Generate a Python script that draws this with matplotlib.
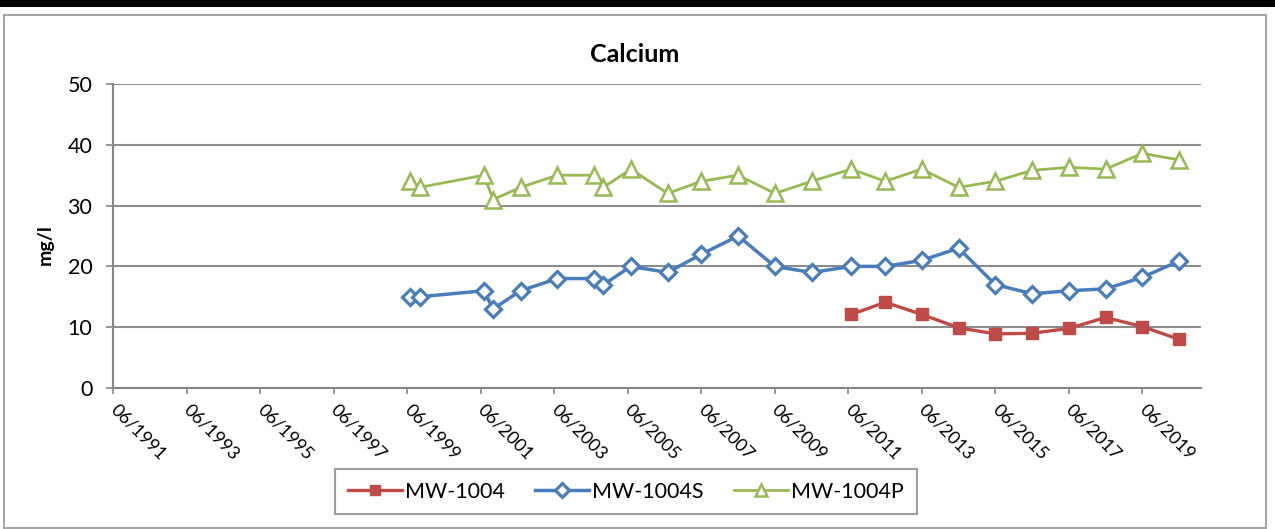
import matplotlib
matplotlib.use("Agg")
import matplotlib.pyplot as plt
import matplotlib.dates as mdates
from matplotlib.patches import Rectangle
import pandas as pd

plt.rcParams['font.family'] = ['Lato', 'DejaVu Sans']

title = "Calcium"
y_label = "mg/l"
series_names = ["MW-1004", "MW-1004S", "MW-1004P"]

dates_sp = ['1999-07-01', '1999-10-01', '2001-07-01', '2001-10-01', '2002-07-01',
            '2003-07-01', '2004-07-01', '2004-10-01', '2005-07-01', '2006-07-01',
            '2007-06-01', '2008-06-01', '2009-06-01', '2010-06-01', '2011-07-01',
            '2012-06-01', '2013-06-01', '2014-06-01', '2015-06-01', '2016-06-01',
            '2017-06-01', '2018-06-01', '2019-06-01', '2020-06-01']
dates_main = ['2011-07-01', '2012-06-01', '2013-06-01', '2014-06-01', '2015-06-01',
              '2016-06-01', '2017-06-01', '2018-06-01', '2019-06-01', '2020-06-01']

mw1004 = [12.1, 14.1, 12.1, 9.9, 8.9, 9.0, 9.8, 11.6, 10.1, 8.0]
mw1004s = [15, 15, 16, 13, 16, 18, 18, 17, 20, 19, 22, 25, 20, 19, 20, 20, 21, 23,
           17, 15.5, 16, 16.3, 18.2, 20.9]
mw1004p = [34, 33, 35, 31, 33, 35, 35, 33, 36, 32, 34, 35, 32, 34, 36, 34, 36, 33,
           34, 35.8, 36.3, 36, 38.6, 37.5]

x_start = '1991-06-01'
x_end = '2021-01-01'
y_ticks = [0, 10, 20, 30, 40, 50]

W, H = 1275, 529
fig = plt.figure(figsize=(W / 100, H / 100), dpi=100)
fig.patch.set_facecolor('white')

# top black band and chart frame
fig.patches.append(Rectangle((0, 1 - 7 / H), 1, 7 / H, transform=fig.transFigure,
                             facecolor='black', edgecolor='none', zorder=0))
fig.patches.append(Rectangle((4 / W, 1 / H), 1262 / W, (514 - 1) / H,
                             transform=fig.transFigure, facecolor='none',
                             edgecolor='#a6a6a6', linewidth=1.5, zorder=0))

left, right = 113.3 / W, 1200.7 / W
bottom, top = 1 - 388 / H, 1 - 84 / H
ax = fig.add_axes([left, bottom, right - left, top - bottom])

red = '#BE4B48'
blue = '#4A7EBB'
green = '#98B954'

x_m = pd.to_datetime(dates_main)
x_sp = pd.to_datetime(dates_sp)

ax.plot(x_m, mw1004, color=red, linewidth=2.4, marker='s', markersize=8,
        markerfacecolor=red, markeredgecolor=red, label=series_names[0], zorder=3)
ax.plot(x_sp, mw1004s, color=blue, linewidth=2.5, marker='D', markersize=8,
        markerfacecolor='white', markeredgecolor=blue, markeredgewidth=2.3,
        label=series_names[1], zorder=4)
ax.plot(x_sp, mw1004p, color=green, linewidth=2.0, marker='^', markersize=11,
        markerfacecolor='white', markeredgecolor=green, markeredgewidth=1.8,
        label=series_names[2], zorder=5)

ax.set_xlim(pd.Timestamp(x_start), pd.Timestamp(x_end))
ax.set_ylim(0, 50)
ax.set_yticks(y_ticks)
ax.yaxis.grid(True, color='#8c8c8c', linewidth=1.5)
ax.set_axisbelow(True)

xt = pd.date_range(x_start, '2019-06-01', freq='24MS')
ax.set_xticks(xt)
ax.xaxis.set_major_formatter(mdates.DateFormatter('%m/%Y'))

for s in ['top', 'right']:
    ax.spines[s].set_visible(False)
for s in ['left', 'bottom']:
    ax.spines[s].set_color('#868686')
    ax.spines[s].set_linewidth(1.5)

ax.tick_params(axis='y', direction='out', length=5, width=1.2, color='#868686',
               labelsize=15.5, pad=10)
ax.tick_params(axis='x', direction='out', length=4, width=1.2, color='#868686',
               labelsize=13, pad=10)
for lbl in ax.get_xticklabels():
    lbl.set_rotation(-45)
    lbl.set_ha('left')
    lbl.set_va('center')
    lbl.set_rotation_mode('anchor')

fig.text(635 / W, 1 - 55 / H, title, ha='center', va='center', fontsize=18,
         fontweight='bold')
fig.text(45 / W, 1 - 245 / H, y_label, ha='center', va='center', fontsize=14,
         fontweight='bold', rotation=90)

leg = fig.legend(loc='center', bbox_to_anchor=(626 / W, 1 - 491.5 / H), ncol=3,
                 fontsize=15.5, frameon=True, fancybox=False, edgecolor='#868686',
                 handlelength=2.5, columnspacing=1.4, borderpad=0.6,
                 handletextpad=0.15, borderaxespad=0, markerscale=0.85)
leg.get_frame().set_linewidth(1.5)

fig.savefig('out.png', dpi=100)
